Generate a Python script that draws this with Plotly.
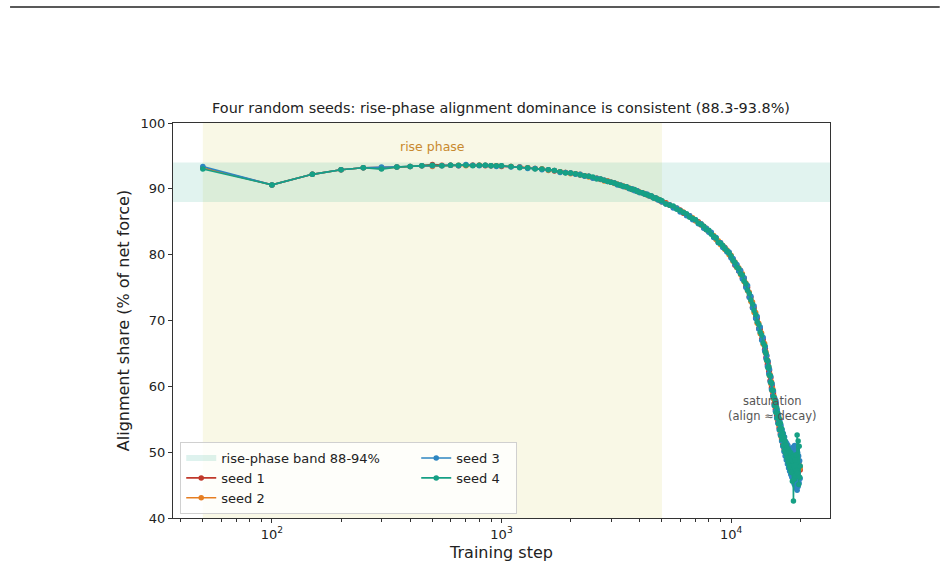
import plotly.graph_objects as go

# ---- data -------------------------------------------------------------
steps_a = [50, 100, 150, 200, 250, 300, 350, 400, 450, 500, 550, 600, 650, 700, 750, 800, 850, 900, 950, 1000]
steps_b = [1100, 1200, 1300, 1400, 1500, 1600, 1700, 1800, 1900, 2000, 2100, 2200, 2300, 2400, 2500, 2600, 2700, 2800, 2900, 3000,
           3100, 3200, 3300, 3400, 3500, 3600, 3700, 3800, 3900, 4000, 4100, 4200, 4300, 4400, 4500, 4600, 4700, 4800, 4900, 5000]
steps_c = [5200, 5400, 5600, 5800, 6000, 6200, 6400, 6600, 6800, 7000, 7200, 7400, 7600, 7800, 8000, 8200, 8400, 8600, 8800, 9000,
           9200, 9400, 9600, 9800, 10000]
steps_d1 = [10200, 10400, 10600, 10800, 11000, 11200, 11400, 11600, 11800, 12000, 12200, 12400, 12600, 12800, 13000, 13200, 13400,
            13600, 13800, 14000]
steps_d2 = [14100, 14200, 14300, 14400, 14500, 14600, 14700, 14800, 14900, 15000, 15100, 15200, 15300, 15400, 15500, 15600, 15700,
            15800, 15900, 16000, 16100, 16200, 16300, 16400, 16500, 16600, 16700, 16800, 16900, 17000, 17100, 17200, 17300, 17400,
            17500, 17600, 17700, 17800, 17900, 18000, 18100, 18200, 18300, 18400, 18500, 18600, 18700, 18800, 18900, 19000, 19100,
            19200, 19300, 19400, 19500, 19600, 19700, 19800, 19900, 20000]
steps = steps_a + steps_b + steps_c + steps_d1 + steps_d2

seed1 = [
    93.2, 90.6, 92.2, 92.9, 93.2, 93.2, 93.3, 93.4, 93.5, 93.7, 93.6, 93.6, 93.5, 93.6, 93.6, 93.6, 93.5, 93.5, 93.5, 93.4,
    93.4, 93.3, 93.2, 93.1, 93.0, 92.9, 92.7, 92.6, 92.5, 92.4, 92.3, 92.1, 92.0, 91.9, 91.7, 91.6, 91.4, 91.3, 91.2, 91.0,
    90.9, 90.7, 90.5, 90.4, 90.3, 90.1, 89.9, 89.8, 89.7, 89.5, 89.4, 89.2, 89.1, 89.0, 88.8, 88.7, 88.6, 88.4, 88.2, 88.1,
    87.9, 87.5, 87.2, 87.0, 86.8, 86.3, 86.1, 85.9, 85.4, 85.2, 85.0, 84.5, 84.3, 83.8, 83.6, 83.3, 82.7, 82.5, 81.9, 81.8,
    81.2, 81.1, 80.5, 80.3, 79.6,
    79.3, 78.4, 78.4, 77.5, 77.6, 76.5, 76.4, 75.2, 75.0, 73.6, 73.5, 72.0, 71.9, 70.4, 70.3, 68.8, 68.7, 67.2, 67.1, 65.6,
    65.8, 64.4, 64.6, 63.3, 63.6, 62.2, 62.4, 60.9, 61.3, 59.8, 60.1, 58.7, 59.0, 57.4, 57.9, 56.5, 57.1, 55.5, 56.0, 54.7,
    55.3, 53.7, 54.3, 52.8, 53.6, 52.0, 52.8, 51.2, 52.1, 50.6, 51.6, 49.9, 51.0, 49.3, 50.6, 48.8, 50.2, 48.4, 49.9, 47.9,
    49.8, 47.6, 49.5, 47.2, 49.6, 46.9, 49.8, 46.8, 50.1, 46.5, 49.4, 46.7, 48.9, 47.2, 48.6, 46.9, 48.3, 47.6, 47.8, 47.3,
]
seed2 = [
    93.2, 90.6, 92.2, 92.9, 93.2, 93.1, 93.3, 93.4, 93.5, 93.4, 93.5, 93.6, 93.6, 93.5, 93.6, 93.6, 93.6, 93.5, 93.5, 93.5,
    93.4, 93.3, 93.2, 93.1, 93.0, 92.8, 92.8, 92.6, 92.5, 92.3, 92.3, 92.2, 92.0, 91.8, 91.7, 91.6, 91.5, 91.2, 91.2, 91.0,
    90.8, 90.7, 90.6, 90.4, 90.2, 90.1, 90.0, 89.8, 89.6, 89.5, 89.4, 89.3, 89.1, 88.9, 88.9, 88.7, 88.5, 88.4, 88.3, 88.0,
    87.8, 87.6, 87.2, 87.1, 86.6, 86.5, 86.0, 85.8, 85.6, 85.1, 84.9, 84.7, 84.1, 84.0, 83.5, 83.2, 82.9, 82.3, 82.1, 81.5,
    81.4, 80.8, 80.7, 80.0, 79.9,
    79.0, 78.9, 78.0, 78.0, 77.0, 77.1, 75.9, 75.7, 74.5, 74.3, 72.9, 72.8, 71.2, 71.2, 69.6, 69.6, 68.0, 68.1, 66.4, 66.5,
    65.1, 65.2, 63.9, 64.0, 62.9, 62.9, 61.6, 61.8, 60.4, 60.7, 59.3, 59.6, 58.1, 58.5, 57.0, 57.4, 56.1, 56.6, 55.0, 55.7,
    54.2, 54.8, 53.3, 54.0, 52.4, 53.3, 51.6, 52.5, 50.9, 51.8, 50.3, 51.3, 49.6, 50.9, 49.1, 50.3, 48.8, 49.9, 48.4, 49.5,
    48.0, 49.4, 47.7, 49.3, 47.5, 49.2, 47.4, 49.4, 47.2, 49.1, 47.0, 49.2, 46.9, 49.0, 47.1, 48.8, 47.3, 48.6, 47.5, 47.8,
]
seed3 = [
    93.4, 90.6, 92.2, 92.9, 93.2, 93.3, 93.3, 93.4, 93.5, 93.5, 93.5, 93.6, 93.5, 93.7, 93.6, 93.5, 93.6, 93.5, 93.4, 93.5,
    93.3, 93.3, 93.1, 93.1, 92.9, 92.9, 92.8, 92.5, 92.5, 92.4, 92.2, 92.2, 91.9, 91.9, 91.6, 91.6, 91.5, 91.3, 91.1, 91.0,
    90.9, 90.6, 90.6, 90.3, 90.3, 90.0, 90.0, 89.7, 89.7, 89.4, 89.4, 89.2, 89.2, 88.9, 88.9, 88.6, 88.6, 88.3, 88.3, 88.0,
    87.7, 87.6, 87.1, 87.1, 86.5, 86.4, 85.9, 85.9, 85.3, 85.3, 84.7, 84.7, 84.0, 84.0, 83.4, 83.4, 82.6, 82.6, 81.8, 81.8,
    81.1, 81.0, 80.4, 80.4, 79.5,
    79.4, 78.5, 78.5, 77.5, 77.6, 76.3, 76.5, 75.0, 75.3, 73.5, 73.7, 71.9, 72.2, 70.3, 70.6, 68.7, 69.0, 67.0, 67.4, 65.4,
    66.0, 64.2, 64.7, 63.0, 63.8, 61.9, 62.6, 60.7, 61.5, 59.5, 60.4, 58.5, 59.3, 57.1, 58.2, 56.2, 57.4, 55.2, 56.4, 54.4,
    55.6, 53.4, 54.8, 52.6, 54.1, 51.7, 53.4, 50.9, 52.8, 50.1, 52.3, 49.4, 51.6, 48.8, 51.3, 48.2, 51.0, 47.6, 50.6, 47.1,
    50.5, 46.6, 50.4, 46.2, 50.6, 45.7, 50.8, 45.2, 51.0, 44.9, 50.7, 44.5, 50.3, 44.2, 49.9, 44.8, 49.4, 45.3, 48.7, 46.0,
]
seed4 = [
    93.0, 90.6, 92.2, 92.9, 93.2, 93.0, 93.3, 93.4, 93.5, 93.6, 93.5, 93.6, 93.6, 93.6, 93.5, 93.6, 93.6, 93.5, 93.5, 93.5,
    93.4, 93.2, 93.2, 93.0, 93.0, 92.9, 92.8, 92.6, 92.4, 92.4, 92.3, 92.1, 92.0, 91.9, 91.8, 91.5, 91.5, 91.3, 91.1, 91.0,
    90.9, 90.7, 90.5, 90.4, 90.3, 90.1, 89.9, 89.9, 89.6, 89.5, 89.4, 89.2, 89.1, 89.0, 88.9, 88.6, 88.6, 88.4, 88.3, 88.2,
    87.7, 87.5, 87.4, 86.9, 86.7, 86.4, 86.2, 85.7, 85.5, 85.3, 84.8, 84.6, 84.3, 83.8, 83.7, 83.1, 82.8, 82.5, 81.9, 81.7,
    81.4, 80.9, 80.6, 80.2, 79.8,
    79.1, 78.8, 78.1, 77.9, 77.1, 76.9, 76.0, 75.6, 74.6, 74.1, 73.1, 72.5, 71.5, 70.9, 69.8, 69.4, 68.2, 67.8, 66.6, 66.2,
    65.2, 65.0, 64.0, 63.9, 62.8, 63.0, 61.7, 61.6, 60.6, 60.5, 59.4, 59.4, 58.4, 58.2, 57.1, 57.6, 56.0, 56.8, 55.2, 55.9,
    54.3, 55.1, 53.4, 54.4, 52.5, 53.6, 51.9, 52.9, 51.0, 52.3, 50.3, 51.7, 49.8, 51.1, 49.1, 50.6, 48.5, 50.4, 47.9, 50.0,
    47.4, 49.9, 46.9, 48.7, 45.6, 49.5, 42.6, 49.3, 45.9, 48.8, 46.4, 49.6, 47.2, 52.6, 46.8, 51.7, 45.1, 50.9, 46.2, 47.9,
]

seed_names = ["seed 1", "seed 2", "seed 3", "seed 4"]
seed_values = [seed1, seed2, seed3, seed4]
seed_colors = ["#c0392b", "#e67e22", "#2e86c1", "#16a085"]

band_low, band_high = 88, 94
rise_start, rise_end = 50, 5000

x_major = [100, 1000, 10000]
x_major_text = ["10<sup>2</sup>", "10<sup>3</sup>", "10<sup>4</sup>"]
x_minor = [m * 10 ** e for e in (1, 2, 3, 4) for m in range(2, 10) if 37 <= m * 10 ** e <= 27000]

# ---- figure -----------------------------------------------------------
fig = go.Figure()

# legend-only entry for band
fig.add_trace(go.Scatter(
    x=[None], y=[None], mode="none", fill="toself",
    fillcolor="rgba(22,160,133,0.14)", name="rise-phase band 88-94%",
    legendrank=1, legendwidth=190, hoverinfo="skip",
))

legend_ranks = [3, 5, 2, 4]
legend_widths = [190, 190, 55, 55]
for name, vals, col, rk, lw in zip(seed_names, seed_values, seed_colors, legend_ranks, legend_widths):
    fig.add_trace(go.Scatter(
        x=steps, y=vals, mode="lines+markers", name=name,
        line=dict(color=col, width=1.6),
        marker=dict(color=col, size=5.5),
        legendrank=rk, legendwidth=lw,
    ))

fig.add_shape(type="rect", xref="x", yref="paper",
              x0=rise_start, x1=rise_end, y0=0, y1=1,
              fillcolor="rgba(218,210,90,0.15)", line=dict(width=0), layer="below")
fig.add_shape(type="rect", xref="paper", yref="y",
              x0=0, x1=1, y0=band_low, y1=band_high,
              fillcolor="rgba(22,160,133,0.13)", line=dict(width=0), layer="below")

# top rule of the page
fig.add_shape(type="line", xref="paper", yref="paper",
              x0=-0.248, x1=1.167, y0=1.2937, y1=1.2937,
              line=dict(color="#222222", width=1.5))

fig.add_annotation(x=2.699, y=96.5, xref="x", yref="y", text="rise phase",
                   showarrow=False, font=dict(size=12.5, color="#c8892e"))
fig.add_annotation(x=4.179, y=56.7, xref="x", yref="y",
                   text="saturation<br>(align ≈ decay)",
                   showarrow=False, font=dict(size=11.5, color="#555555"))

axis_common = dict(
    showgrid=False, zeroline=False, showline=True, linecolor="#333333", linewidth=1,
    mirror=True, ticks="outside", ticklen=4, tickwidth=1, tickcolor="#333333",
    tickfont=dict(size=13, color="#222222"),
)

fig.update_layout(
    width=948, height=571,
    margin=dict(l=173, r=118, t=123, b=53),
    paper_bgcolor="white", plot_bgcolor="white",
    font=dict(family="DejaVu Sans", color="#222222"),
    title=dict(text="Four random seeds: rise-phase alignment dominance is consistent (88.3-93.8%)",
               x=0.5285, xanchor="center", y=1 - 108 / 571, yanchor="middle",
               font=dict(size=14.4, color="#222222")),
    xaxis=dict(type="log", range=[1.569, 4.431],
               tickmode="array", tickvals=x_major, ticktext=x_major_text,
               minor=dict(tickmode="array", tickvals=x_minor, ticks="outside",
                          ticklen=2.5, tickwidth=0.8, tickcolor="#333333", showgrid=False),
               title=dict(text="Training step", font=dict(size=16), standoff=6),
               **axis_common),
    yaxis=dict(range=[40, 100], tickmode="array", tickvals=[40, 50, 60, 70, 80, 90, 100],
               title=dict(text="Alignment share (% of net force)", font=dict(size=16), standoff=6),
               **axis_common),
    legend=dict(orientation="h", x=0.011, y=0.01, xanchor="left", yanchor="bottom",
                entrywidth=190, entrywidthmode="pixels", itemwidth=30,
                bgcolor="rgba(255,255,255,0.8)", bordercolor="#d0d0d0", borderwidth=1,
                font=dict(size=13, color="#222222"), tracegroupgap=0),
    showlegend=True,
)

fig.write_html("out.html")
